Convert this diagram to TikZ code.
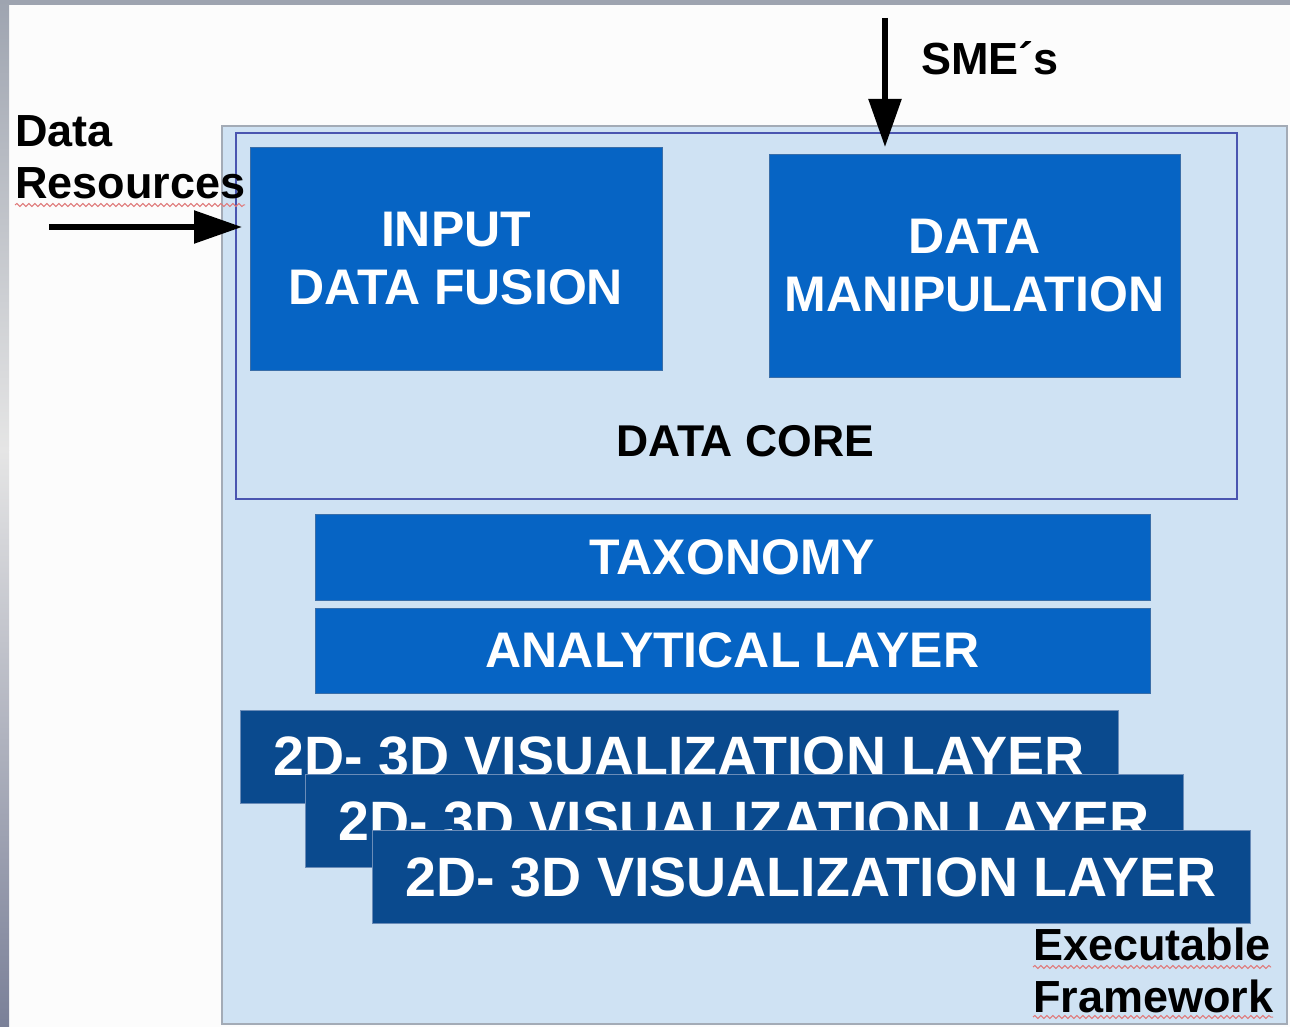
\documentclass[tikz,border=0pt]{standalone}
\usepackage{fontspec}
\setmainfont{Liberation Sans}
\usetikzlibrary{arrows.meta,decorations.pathmorphing}

\definecolor{panelfill}{HTML}{CFE2F3}
\definecolor{panelline}{HTML}{A3ABB6}
\definecolor{coreline}{HTML}{4A55B0}
\definecolor{brightblue}{HTML}{0664C4}
\definecolor{brightline}{HTML}{3A6EA8}
\definecolor{deepblue}{HTML}{0A4A8E}
\definecolor{deepline}{HTML}{6A8CB8}
\definecolor{frametop}{HTML}{9EA4B0}
\definecolor{framemid}{HTML}{E5E5E5}
\definecolor{framebot}{HTML}{7A8098}
\definecolor{squiggle}{HTML}{E07A7A}

\tikzset{
  panel/.style={draw=panelline, line width=1.5pt, fill=panelfill, inner sep=0pt, outer sep=0pt},
  corebox/.style={draw=coreline, line width=1.5pt, fill=panelfill, inner sep=0pt, outer sep=0pt},
  bluebox/.style={draw=brightline, line width=1pt, fill=brightblue, text=white, inner sep=0pt, outer sep=0pt,
    align=center, font=\bfseries\fontsize{50}{58}\selectfont},
  layerbox/.style={draw=deepline, line width=1pt, fill=deepblue, text=white, inner sep=0pt, outer sep=0pt,
    minimum width=878pt, minimum height=93pt, font=\bfseries\fontsize{55.5}{60}\selectfont},
  label/.style={text=black, inner sep=0pt, outer sep=0pt, align=left, font=\bfseries\fontsize{45}{52}\selectfont},
  feed/.style={line width=5.5pt, -{Triangle[length=48pt, width=32pt]}},
  spell/.style={draw=squiggle, line width=1pt, decorate,
    decoration={snake, segment length=6pt, amplitude=1.5pt}}
}

\begin{document}
\begin{tikzpicture}[x=1pt, y=-1pt]
  \useasboundingbox (0,0) rectangle (1290,1027);
  \fill[white!99!black] (0,0) rectangle (1290,1027);

  % window frame strips
  \fill[frametop] (0,0) rectangle (1290,5);
  \shade[top color=frametop, bottom color=framemid] (0,0) rectangle (9,450);
  \shade[top color=framemid, bottom color=framebot] (0,450) rectangle (9,1027);

  % framework panel and data core
  \node[panel, minimum width=1065pt, minimum height=898pt] (framework) at (754.5,575) {};
  \node[corebox, minimum width=1001pt, minimum height=366pt] (core) at (736.5,316) {};

  \node[bluebox, minimum width=412pt, minimum height=222pt] (fusion) at (456,259) {INPUT\\DATA FUSION};
  \node[bluebox, minimum width=411pt, minimum height=222pt] (manip) at (974.5,266) {DATA\\MANIPULATION};
  \node[text=black, inner sep=0pt, font=\bfseries\fontsize{44.5}{50}\selectfont] (corelabel) at (745,441) {DATA CORE};

  \node[bluebox, minimum width=835pt, minimum height=86pt] (taxonomy) at (732.5,557) {TAXONOMY};
  \node[bluebox, minimum width=835pt, minimum height=85pt] (analytical) at (732.5,650.5) {ANALYTICAL LAYER};

  % stacked visualization layers
  \node[layerbox] (vis1) at (679,756.5) {2D- 3D VISUALIZATION LAYER};
  \node[layerbox] (vis2) at (744,821) {2D- 3D VISUALIZATION LAYER};
  \node[layerbox] (vis3) at (811.5,877) {2D- 3D VISUALIZATION LAYER};

  % outside labels (base = baseline of the last line)
  \node[label, anchor=base west] (datares) at (15,199) {Data\\Resources};
  \node[label, anchor=base west] (sme) at (921,75) {SME´s};
  \node[label, anchor=base west] (exec) at (1033,1012) {Executable\\Framework};

  % spell-check underlines
  \draw[spell] (15,205) -- (245,205);
  \draw[spell] (1033,967) -- (1271,967);
  \draw[spell] (1033,1017) -- (1273,1017);

  % incoming arrows
  \coordinate (resin) at (49,227);
  \coordinate (restip) at (242,227);
  \coordinate (smein) at (885,18);
  \coordinate (smetip) at (885,147);
  \draw[feed] (resin) -- (restip);
  \draw[feed] (smein) -- (smetip);
\end{tikzpicture}
\end{document}
